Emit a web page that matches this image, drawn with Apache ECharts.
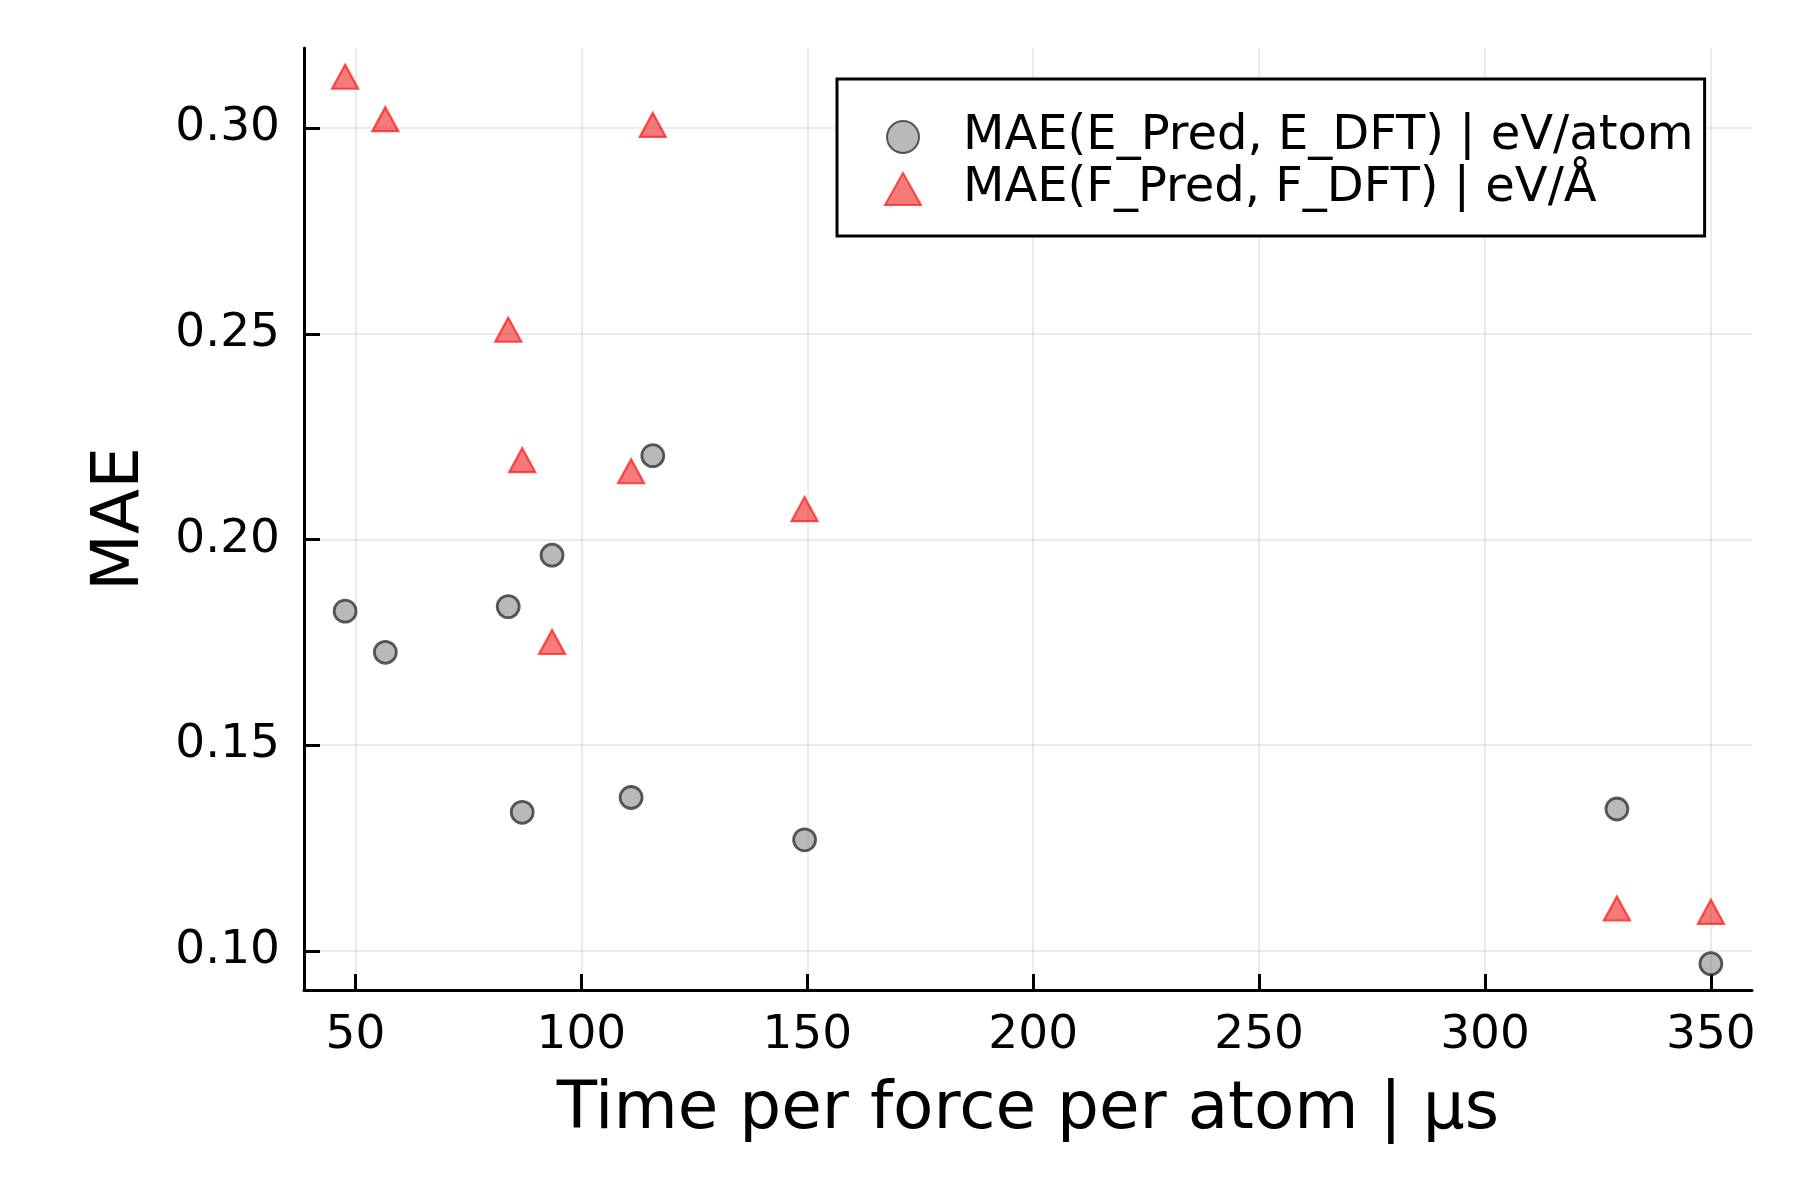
<!DOCTYPE html>
<html>
<head>
<meta charset="utf-8">
<script src="https://cdn.jsdelivr.net/npm/echarts@6/dist/echarts.min.js"></script>
<style>
html,body{margin:0;padding:0;background:#fff;}
#chart{width:1800px;height:1200px;}
</style>
</head>
<body>
<div id="chart"></div>
<script>
// Data
const timePerForce = [47.7, 56.6, 83.8, 86.9, 93.5, 111.0, 115.8, 149.4, 329.2, 350.0];
const maeEnergy    = [0.1826, 0.1726, 0.1837, 0.1337, 0.1962, 0.1373, 0.2204, 0.1270, 0.1345, 0.0969];
const maeForce     = [0.3125, 0.3022, 0.2510, 0.2193, 0.1751, 0.2166, 0.3008, 0.2074, 0.1103, 0.1095];
const seriesNames  = ['MAE(E_Pred, E_DFT) | eV/atom', 'MAE(F_Pred, F_DFT) | eV/Å'];
const xTicks = [50, 100, 150, 200, 250, 300, 350];
const yTicks = [0.10, 0.15, 0.20, 0.25, 0.30];
const xTitle = 'Time per force per atom | µs';
const yTitle = 'MAE';

const energyPts = timePerForce.map((x, i) => [x, maeEnergy[i]]);
const forcePts  = timePerForce.map((x, i) => [x, maeForce[i]]);

const FONT = 'DejaVu Sans';
const chart = echarts.init(document.getElementById('chart'), null, {renderer: 'canvas'});
chart.setOption({
  animation: false,
  backgroundColor: '#ffffff',
  textStyle: {fontFamily: FONT},
  grid: {left: 304, right: 48, top: 48, bottom: 210, containLabel: false},
  legend: {
    orient: 'vertical',
    left: 837, top: 79,
    padding: [32, 11, 21, 47],
    borderColor: '#000', borderWidth: 3,
    backgroundColor: '#fff',
    itemWidth: 36, itemHeight: 32, itemGap: 0,
    textStyle: {fontFamily: FONT, fontSize: 48, color: '#000', lineHeight: 52, padding: [0, 0, 0, 37]},
    data: [
      {name: seriesNames[0], icon: 'circle'},
      {name: seriesNames[1], icon: 'triangle'}
    ]
  },
  xAxis: {
    type: 'value',
    min: 38.6, max: 359.1,
    name: xTitle, nameLocation: 'middle', nameGap: 88,
    nameTextStyle: {fontFamily: FONT, fontSize: 66, color: '#000'},
    axisLine: {show: true, onZero: false, lineStyle: {color: '#000', width: 3}},
    axisTick: {show: true, inside: true, length: 16, lineStyle: {color: '#000', width: 3}, customValues: xTicks},
    axisLabel: {fontFamily: FONT, fontSize: 47, color: '#000', margin: 22, customValues: xTicks},
    splitLine: {show: true, lineStyle: {color: 'rgba(0,0,0,0.1)', width: 1.5}}
  },
  yAxis: {
    type: 'value',
    min: 0.0905, max: 0.3195,
    name: yTitle, nameLocation: 'middle', nameGap: 150, nameRotate: 90,
    nameTextStyle: {fontFamily: FONT, fontSize: 66, color: '#000'},
    axisLine: {show: true, onZero: false, lineStyle: {color: '#000', width: 3}},
    axisTick: {show: true, inside: true, length: 16, lineStyle: {color: '#000', width: 3}, customValues: yTicks},
    axisLabel: {fontFamily: FONT, fontSize: 47, color: '#000', margin: 24, customValues: yTicks,
      formatter: v => v.toFixed(2)},
    splitLine: {show: true, lineStyle: {color: 'rgba(0,0,0,0.1)', width: 1.5}}
  },
  series: [
    {
      name: seriesNames[0], type: 'scatter', symbol: 'circle', symbolSize: 22,
      itemStyle: {color: 'rgba(128,128,128,0.55)', borderColor: 'rgba(40,40,40,0.75)', borderWidth: 2.8, opacity: 1},
      data: energyPts, z: 3
    },
    {
      name: seriesNames[1], type: 'scatter', symbol: 'triangle', symbolSize: [26, 24],
      itemStyle: {color: 'rgba(235,0,0,0.52)', borderColor: 'rgba(255,30,30,0.75)', borderWidth: 2.2, opacity: 1},
      data: forcePts, z: 4
    }
  ]
});
</script>
</body>
</html>
